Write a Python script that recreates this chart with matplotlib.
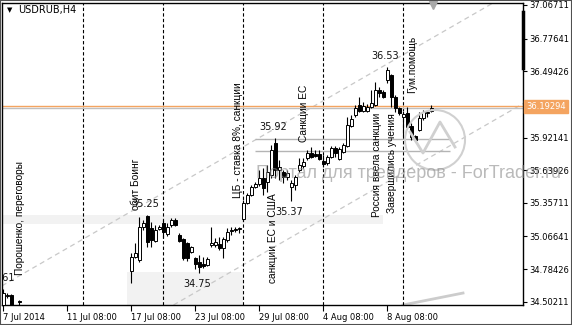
import matplotlib
matplotlib.use("Agg")
import matplotlib.pyplot as plt
import matplotlib.patches as mpatches
import matplotlib.transforms as mtransforms
import numpy as np

plt.rcParams['font.family'] = ['Liberation Sans', 'DejaVu Sans']

# H4 bars, index = bar number counted from 7 Jul 2014 (bars hidden below the chart are left out)
bar_idx = [0, 1, 2, 4] + list(range(32, 108))

opens = [34.46, 34.555, 34.56, 34.505,
         34.768, 34.889, 34.863, 35.148, 35.243, 35.139, 35.027, 35.131, 35.182, 35.088,
         35.165, 35.208, 35.079, 35.044, 35.010, 34.932, 34.880, 34.846, 34.829, 34.820,
         34.993, 34.993, 35.001, 34.967, 35.036, 35.113, 35.122, 35.131, 35.217, 35.355,
         35.424, 35.493, 35.519, 35.571, 35.537, 35.597, 35.874, 35.640, 35.623, 35.580,
         35.493, 35.511, 35.640, 35.675, 35.744, 35.787, 35.778, 35.778, 35.718, 35.701,
         35.752, 35.830, 35.735, 35.796, 35.848, 36.021, 36.116, 36.203, 36.151, 36.151,
         36.185, 36.203, 36.332, 36.315, 36.418, 36.462, 36.272, 36.176, 36.099, 36.133,
         36.021, 35.934, 35.987, 36.090, 36.133, 36.151]
highs = [34.61, 34.577, 34.565, 34.52,
         34.924, 35.010, 35.234, 35.208, 35.25, 35.191, 35.165, 35.165, 35.208, 35.182,
         35.226, 35.226, 35.096, 35.053, 35.018, 34.984, 34.889, 34.906, 34.889, 34.889,
         35.148, 35.053, 35.062, 35.062, 35.139, 35.148, 35.148, 35.148, 35.381, 35.442,
         35.511, 35.537, 35.640, 35.658, 35.684, 35.856, 35.92, 35.727, 35.640, 35.640,
         35.554, 35.597, 35.744, 35.744, 35.813, 35.839, 35.813, 35.813, 35.770, 35.770,
         35.848, 35.848, 35.839, 35.874, 36.099, 36.116, 36.203, 36.272, 36.229, 36.211,
         36.332, 36.401, 36.358, 36.332, 36.53, 36.470, 36.289, 36.185, 36.151, 36.185,
         36.047, 35.943, 36.142, 36.159, 36.151, 36.203]
lows = [34.40, 34.534, 34.40, 34.45,
        34.664, 34.880, 34.846, 35.122, 34.975, 34.975, 35.018, 35.122, 35.053, 35.070,
        35.148, 35.157, 35.018, 34.863, 34.855, 34.924, 34.785, 34.75, 34.794, 34.811,
        34.975, 34.975, 34.949, 34.880, 35.018, 35.079, 35.105, 35.096, 35.200, 35.346,
        35.416, 35.485, 35.502, 35.424, 35.450, 35.571, 35.571, 35.554, 35.528, 35.554,
        35.37, 35.467, 35.623, 35.658, 35.727, 35.744, 35.752, 35.727, 35.666, 35.684,
        35.744, 35.752, 35.727, 35.787, 35.839, 36.012, 36.099, 36.142, 36.142, 36.142,
        36.176, 36.194, 36.272, 36.263, 36.393, 36.185, 36.142, 36.116, 35.934, 36.004,
        35.900, 35.891, 35.978, 36.073, 36.099, 36.142]
closes = [34.577, 34.56, 34.45, 34.50,
          34.889, 34.924, 35.148, 35.182, 35.018, 35.036, 35.122, 35.148, 35.105, 35.148,
          35.208, 35.165, 35.027, 34.880, 34.880, 34.975, 34.829, 34.803, 34.811, 34.872,
          35.010, 35.018, 34.967, 35.044, 35.105, 35.122, 35.131, 35.139, 35.355, 35.424,
          35.493, 35.519, 35.571, 35.485, 35.623, 35.813, 35.640, 35.666, 35.580, 35.614,
          35.528, 35.580, 35.684, 35.709, 35.787, 35.752, 35.761, 35.735, 35.692, 35.752,
          35.830, 35.787, 35.822, 35.856, 36.030, 36.081, 36.176, 36.151, 36.194, 36.185,
          36.220, 36.332, 36.306, 36.272, 36.505, 36.272, 36.176, 36.133, 36.125, 36.012,
          35.926, 35.900, 36.090, 36.142, 36.142, 36.176]

bid_price = 36.19294
ask_price = 36.175

xtick_bars = [0, 16, 32, 48, 64, 80, 96]
xtick_labels = ["7 Jul 2014", "11 Jul 08:00", "17 Jul 08:00", "23 Jul 08:00",
                "29 Jul 08:00", "4 Aug 08:00", "8 Aug 08:00"]
yticks = [37.06711, 36.77641, 36.49426, 35.92141, 35.63926, 35.35711,
          35.06641, 34.78426, 34.50211]

separators = [20, 40, 60, 80, 100]   # weekly period separators

# marked extremes: (bar, 'high'/'low')
marks = [(0, 'high'), (36, 'high'), (49, 'low'), (68, 'high'), (72, 'low'), (96, 'high')]

# news labels: text, bar, price at the foot of the text
events = [("Порошенко, переговоры", 4.2, 34.73),
          ("сбит Боинг", 33.1, 35.295),
          ("ЦБ - ставка 8%, санкции", 58.6, 35.40),
          ("санкции ЕС и США", 67.4, 34.664),
          ("Санкции ЕС", 75.1, 35.883),
          ("Россия ввела санкции", 93.4, 35.235),
          ("Завершились учения", 97.1, 35.269),
          ("Гум.помощь", 102.1, 36.306)]

# channel lines (two anchor points each) and levels
channel = [((0, 34.647), (116, 36.957)),
           ((60, 34.822), (120, 36.017))]
levels = [35.909, 35.805]
level_span = (62.9, 111.6)

fig = plt.figure(figsize=(5.72, 3.25), dpi=100)
fig.patch.set_facecolor('white')
ax = fig.add_axes([2 / 572, 20 / 325, 521 / 572, 302 / 325])
ax.set_xlim(-0.375, 129.9)
ax.set_ylim(34.4736, 37.0844)

# shaded zones
ax.add_patch(mpatches.Rectangle((-1, 35.178), 95.9, 0.07, color='#f2f2f2', lw=0, zorder=0))
ax.add_patch(mpatches.Rectangle((30.9, 34.40), 29.0, 0.36, color='#f2f2f2', lw=0, zorder=0))

for p1, p2 in channel:
    ax.axline(p1, p2, color='#c8c8c8', lw=0.9, ls=(0, (4, 3)), zorder=1)
ax.plot([99.9, 114.9], [34.474, 34.577], color='#cccccc', lw=2, zorder=1)

for s in separators:
    ax.axvline(s, color='black', lw=0.8, ls=(0, (3, 2)), zorder=2)

ax.hlines(levels, level_span[0], level_span[1], color='#b4b4b4', lw=1, zorder=2)
ax.axhline(ask_price, color='#c0c0c0', lw=1, zorder=2)
ax.axhline(bid_price, color='#f4a460', lw=1, zorder=2)

# candles
x = np.array(bar_idx)
o = np.array(opens)
h = np.array(highs)
l = np.array(lows)
c = np.array(closes)
up = c >= o
ax.vlines(x, l, h, color='black', lw=0.8, zorder=3)
ax.bar(x[up], (c - o)[up], bottom=o[up], width=0.7, color='white',
       edgecolor='black', lw=0.7, zorder=4)
ax.bar(x[~up], (o - c)[~up], bottom=c[~up], width=0.7, color='black',
       edgecolor='black', lw=0.7, zorder=4)

for b, kind in marks:
    k = bar_idx.index(b)
    val = highs[k] if kind == 'high' else lows[k]
    dy = 8 if kind == 'high' else -8
    ax.annotate(f"{val:.2f}", (b, val), xytext=(-1.5, dy), textcoords='offset points',
                ha='center', va='center', fontsize=7, family='DejaVu Sans',
                color='#111111', zorder=6, annotation_clip=False, clip_on=True)

for txt, b, p in events:
    ax.text(b, p, txt, rotation=90, ha='center', va='bottom', fontsize=7.3,
            color='black', zorder=6)

# axes styling
for sp in ax.spines.values():
    sp.set_color('black')
    sp.set_linewidth(1)
ax.yaxis.tick_right()
ax.set_yticks(yticks)
ax.set_yticklabels([f"{v:.5f}" for v in yticks])
ax.set_xticks(xtick_bars)
ax.set_xticklabels(xtick_labels, ha='left')
ax.tick_params(axis='y', direction='out', length=3, width=0.8, pad=1.5, labelsize=6)
ax.tick_params(axis='x', direction='out', length=4, width=0.8, pad=2, labelsize=6)
for t in ax.get_yticklabels() + ax.get_xticklabels():
    t.set_family('DejaVu Sans')

blend = mtransforms.blended_transform_factory(ax.transAxes, ax.transData)
ax.text(1.006, bid_price, f"{bid_price:.5f}", transform=blend, ha='left', va='center',
        fontsize=6, family='DejaVu Sans', color='white', zorder=7,
        bbox=dict(boxstyle='square,pad=0.25', fc='#f4a460', ec='#f4a460'))
ax.plot([1, 1], [37.007, 36.522], transform=blend, color='black', lw=2.5,
        clip_on=False, zorder=7)

# chart shift marker
ax.plot([107.4], [0.993], marker='v', ms=6, color='#a8a8a8',
        transform=mtransforms.blended_transform_factory(ax.transData, ax.transAxes),
        clip_on=False, zorder=5)

# watermark
fig.text(256 / 572, 1 - 173 / 325, "Портал для трейдеров - ForTrader.ru", ha='left',
         va='center', fontsize=13.0, color='#8c8c8c', alpha=0.6, zorder=10)
ident = mtransforms.IdentityTransform()
fig.patches.append(mpatches.Circle((435, 185), 30, transform=ident, fill=False,
                                   ec='#d0d0d0', lw=1.5, zorder=10))
fig.lines.append(plt.Line2D([410, 423, 440, 455], [193, 172, 203, 178], transform=ident,
                            color='#d0d0d0', lw=2, zorder=10))

# title
fig.text(7 / 572, 1 - 10 / 325, "▼", fontsize=5, va='center', family='DejaVu Sans')
fig.text(18 / 572, 1 - 10 / 325, "USDRUB,H4", fontsize=7, va='center', family='DejaVu Sans')

fig.patches.append(mpatches.Rectangle((0, 0), 1, 1, transform=fig.transFigure, fill=False,
                                      ec='#505050', lw=1.5))

fig.savefig('out.png', dpi=100)
